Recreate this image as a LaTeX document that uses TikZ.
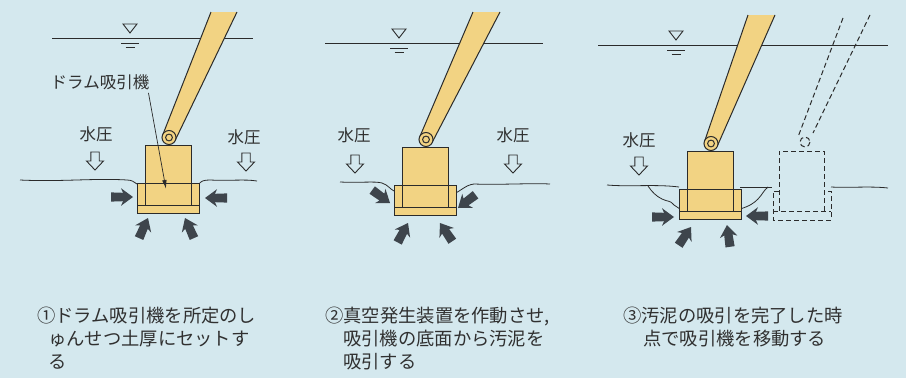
\documentclass[tikz,border=0pt]{standalone}
\usepackage{fontspec}
\newfontfamily\jp{Noto Sans CJK JP}
\usetikzlibrary{calc,arrows.meta}
\definecolor{paper}{HTML}{D4E8EE}
\definecolor{drum}{HTML}{F2D383}
\definecolor{ink}{HTML}{2B2B2B}
\definecolor{push}{HTML}{3E454C}
\definecolor{txt}{HTML}{303030}

% one suction unit: #1,#2 = top-left corner of the drum body,
% #3,#4 = left/right x of the arm at its cut end, #5 = y of that cut
\newcommand\suctionunit[5]{%
  \coordinate (pv) at (#1+24,#2-7.5);
  \coordinate (tl) at (#3,#5);
  \coordinate (tr) at (#4,#5);
  \coordinate (tc) at ($(tl)!0.5!(tr)$);
  \coordinate (bl) at ($(pv)!6.8pt!90:(tc)$);
  \coordinate (br) at ($(pv)!6.8pt!-90:(tc)$);
  \fill[drum] (tl) -- (tr) -- (br) -- (bl) -- cycle;
  \draw[unitline] (tl) -- (bl) (tr) -- (br);
  \fill[drum] (#1-8,#2+38) rectangle (#1+54,#2+68);
  \fill[drum] (#1,#2) rectangle (#1+46,#2+60);
  \draw[unitline] (#1,#2+60) -- (#1,#2) -- (#1+46,#2) -- (#1+46,#2+60);
  \draw[unitline] (#1-8,#2+38) rectangle (#1+54,#2+68);
  \draw[unitline] (#1-8,#2+60) -- (#1+54,#2+60);
  \draw[unitline, fill=drum] (pv) circle (7);
  \draw[unitline] (pv) circle (3.4);
}

% water surface with its level mark: #1,#2 = left end and right end x, #3 = y, #4 = mark x
\newcommand\watersurface[4]{%
  \draw[thinline] (#1,#3) -- (#2,#3);
  \draw[thinline] (#4-7,#3-14) -- (#4+7,#3-14) -- (#4,#3-5) -- cycle;
  \draw[thinline] (#4-9,#3+5) -- (#4+9,#3+5);
  \draw[thinline] (#4-4.5,#3+9) -- (#4+4.5,#3+9);
}

\tikzset{
  unitline/.style={draw=ink, line width=1pt},
  thinline/.style={draw=ink, line width=0.9pt},
  groundline/.style={draw=ink, line width=0.8pt},
  ghostline/.style={draw=ink, line width=1pt, dash pattern=on 5pt off 3pt},
  leader/.style={draw=ink, line width=0.7pt, -{Latex[length=9pt,width=4.5pt]}},
  jplabel/.style={font=\jp\fontsize{16.5}{18}\selectfont, text=txt, inner sep=0pt},
  caption/.style={font=\jp\fontsize{18.3}{23}\selectfont, text=txt, inner sep=0pt, anchor=base west},
  pics/pressarrow/.style={code={
    \draw[ink, line width=0.9pt] (-4.2,0) -- (4.2,0) -- (4.2,9) -- (8.5,9) -- (0,18)
      -- (-8.5,9) -- (-4.2,9) -- cycle;}},
  pics/pusharrow/.style={code={
    \fill[push] (0,0) -- (-12,-8.8) -- (-10,-4.2) -- (-22,-4.6) -- (-22,4.6)
      -- (-10,4.2) -- (-12,8.8) -- cycle;}},
}

\begin{document}
\begin{tikzpicture}[x=1pt,y=-1pt]
\fill[paper] (0,0) rectangle (906,378);
\useasboundingbox (0,0) rectangle (906,378);

% ---------- stage 1: unit set into the sludge layer ----------
\watersurface{52}{253}{38}{130}
\draw[groundline] (20,180) .. controls (60,182) and (95,178) .. (127,180)
  .. controls (132,180) and (134,182) .. (137,184);
\draw[groundline] (199,184) .. controls (201,181) and (204,180) .. (210,180)
  .. controls (230,181) and (245,179) .. (257,181);
\suctionunit{145}{145}{211}{237}{12}
\node[jplabel] (wp1l) at (96,134) {水圧};
\node[jplabel] (wp1r) at (244,137) {水圧};
\pic at (95,152) {pressarrow};
\pic at (246,153) {pressarrow};
\pic at (133,197) {pusharrow};
\pic[rotate=180] at (205,198) {pusharrow};
\pic[rotate=66] at (148,218) {pusharrow};
\pic[rotate=114] at (185,218) {pusharrow};
\node[jplabel] (drumlbl) at (100,82) {ドラム吸引機};
\coordinate (drumtip) at (166,189);
\draw[leader] ([xshift=-1pt,yshift=-3pt]drumlbl.south east) -- (drumtip);

% ---------- stage 2: suction under vacuum ----------
\watersurface{325}{543}{43}{399}
\draw[groundline] (340,182) .. controls (360,183) and (375,181) .. (382,183)
  .. controls (388,185) and (390,189) .. (394,191);
\draw[groundline] (453,194) .. controls (460,192) and (465,185) .. (474,184)
  .. controls (500,185) and (530,183) .. (550,184);
\suctionunit{402}{147}{473}{500}{12}
\node[jplabel] (wp2l) at (354,135) {水圧};
\node[jplabel] (wp2r) at (513,135) {水圧};
\pic at (355,155) {pressarrow};
\pic at (513,155) {pressarrow};
\pic[rotate=-36] at (390,203) {pusharrow};
\pic[rotate=217] at (458,208) {pusharrow};
\pic[rotate=62] at (408,223) {pusharrow};
\pic[rotate=124] at (440,223) {pusharrow};

% ---------- stage 3: suction finished, unit moved on ----------
\watersurface{598}{888}{45}{676}
\draw[groundline] (607,185) .. controls (630,187) and (655,184) .. (679,187);
\draw[groundline] (740,187) -- (772,187);
\draw[groundline] (831,187) .. controls (850,188) and (870,186) .. (888,188);
\draw[groundline] (648,186) .. controls (652,192) and (656,196) .. (662,199)
  .. controls (668,202) and (670,200) .. (674,205) -- (680,209);
\draw[groundline] (740,209) .. controls (750,206) and (754,203) .. (758,199)
  .. controls (762,195) and (764,190) .. (768,187);
\suctionunit{687}{151}{748}{775}{15}
\node[jplabel] (wp3) at (639,140) {水圧};
\pic at (639,157) {pressarrow};
\pic at (674,217) {pusharrow};
\pic[rotate=180] at (746,216) {pusharrow};
\pic[rotate=56] at (691,227) {pusharrow};
\pic[rotate=98] at (727,225) {pusharrow};

% unit in its next position
\coordinate (gpv) at (805,142);
\draw[ghostline] (843,18) -- (798,137);
\draw[ghostline] (870,15) -- (813,133);
\draw[ghostline] (gpv) circle (5);
\draw[ghostline] (779,211) -- (779,151) -- (824,151) -- (824,211);
\draw[ghostline] (779,191) -- (773,191) -- (773,220) -- (831,220) -- (831,191) -- (824,191);
\draw[ghostline] (773,211) -- (831,211);

% ---------- captions ----------
\node[caption] (c1a) at (37,322) {①ドラム吸引機を所定のし};
\node[caption] (c1b) at (48,345) {ゅんせつ土厚にセットす};
\node[caption] (c1c) at (48,368) {る};
\node[caption] (c2a) at (325,322) {②真空発生装置を作動させ,};
\node[caption] (c2b) at (343,345) {吸引機の底面から汚泥を};
\node[caption] (c2c) at (343,368) {吸引する};
\node[caption] (c3a) at (623,322) {③汚泥の吸引を完了した時};
\node[caption] (c3b) at (643,345) {点で吸引機を移動する};
\end{tikzpicture}
\end{document}
